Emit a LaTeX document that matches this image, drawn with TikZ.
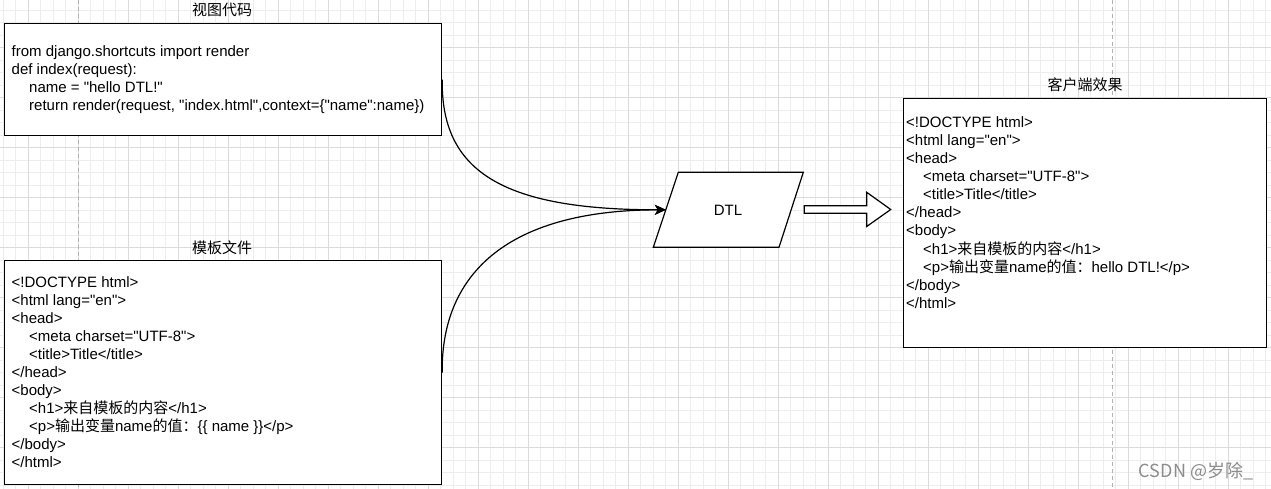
\documentclass[tikz,border=0pt]{standalone}
\usepackage{fontspec}
\setmainfont{Liberation Sans}[Ligatures=TeXOff]
\newfontfamily\cjk{Noto Sans CJK SC}
\usetikzlibrary{arrows.meta}
\newcommand\zh[1]{{\cjk #1}}
\begin{document}
\begin{tikzpicture}[x=1pt,y=-1pt,
  minorgrid/.style={draw=black!7, line width=0.8pt},
  majorgrid/.style={draw=black!14, line width=0.9pt},
  pagebreak/.style={draw=black!30, line width=0.9pt, dash pattern=on 4pt off 3pt},
  box/.style={draw=black, fill=white, line width=1.2pt, inner sep=0pt, anchor=north west},
  code/.style={anchor=base west, inner sep=0pt, font=\fontsize{15}{18}\selectfont},
  boxtitle/.style={inner sep=0pt, font=\cjk\fontsize{15}{18}\selectfont},
  shapeline/.style={draw=black, fill=white, line width=1.2pt, line join=miter},
  flow/.style={draw=black, line width=1.2pt, -{Stealth[length=11pt,width=10pt,inset=3pt]}},
  watermark/.style={text=black!45, inner sep=0pt, font=\cjk\fontsize{18}{20}\selectfont}]
\useasboundingbox (0,0) rectangle (1271,489);
\fill[white] (0,0) rectangle (1271,489);
% grid
\foreach \x in {3,15.5,...,1271} \draw[minorgrid] (\x,0) -- (\x,489);
\foreach \y in {10,22.5,...,489} \draw[minorgrid] (0,\y) -- (1271,\y);
\foreach \x in {28,78,...,1271} \draw[majorgrid] (\x,0) -- (\x,489);
\foreach \y in {47.5,97.5,...,489} \draw[majorgrid] (0,\y) -- (1271,\y);
\draw[pagebreak] (78,0) -- (78,489);
\draw[pagebreak] (1112,0) -- (1112,489);

% view code box
\node[boxtitle] (tv) at (222,10) {视图代码};
\node[box, minimum width=437pt, minimum height=112pt] (view) at (4,23) {};
\node[code] (v1) at (11.5,57) {from django.shortcuts import render};
\node[code] (v2) at (11.5,75) {def index(request):};
\node[code] (v3) at (29,93) {name = "hello DTL!"};
\node[code] (v4) at (29,111) {return render(request, "index.html",context=\{"name":name\})};

% template box
\node[boxtitle] (tt) at (222,247.7) {模板文件};
\node[box, minimum width=437pt, minimum height=224pt] (tmpl) at (4,260) {};
\node[code] (t1) at (11.5,287.5) {<!DOCTYPE html>};
\node[code] (t2) at (11.5,305.5) {<html lang="en">};
\node[code] (t3) at (11.5,323.5) {<head>};
\node[code] (t4) at (29,341.5) {<meta charset="UTF-8">};
\node[code] (t5) at (29,359.5) {<title>Title</title>};
\node[code] (t6) at (11.5,377.5) {</head>};
\node[code] (t7) at (11.5,395.5) {<body>};
\node[code] (t8) at (29,413.5) {<h1>\zh{来自模板的内容}</h1>};
\node[code] (t9) at (29,431.5) {<p>\zh{输出变量}name\zh{的值：}\{\{ name \}\}</p>};
\node[code] (t10) at (11.5,449.5) {</body>};
\node[code] (t11) at (11.5,467.5) {</html>};

% client box
\node[boxtitle] (tc) at (1085,85) {客户端效果};
\node[box, minimum width=363pt, minimum height=249pt] (client) at (903,97.7) {};
\node[code] (c1) at (906,128) {<!DOCTYPE html>};
\node[code] (c2) at (906,146) {<html lang="en">};
\node[code] (c3) at (906,164) {<head>};
\node[code] (c4) at (923,182) {<meta charset="UTF-8">};
\node[code] (c5) at (923,200) {<title>Title</title>};
\node[code] (c6) at (906,218) {</head>};
\node[code] (c7) at (906,236) {<body>};
\node[code] (c8) at (923,254) {<h1>\zh{来自模板的内容}</h1>};
\node[code] (c9) at (923,272) {<p>\zh{输出变量}name\zh{的值：}hello DTL!</p>};
\node[code] (c10) at (906,290) {</body>};
\node[code] (c11) at (906,308) {</html>};

% DTL parallelogram
\draw[shapeline] (653.3,247.3) -- (678.3,172.3) -- (803.3,172.3) -- (779,247.3) -- cycle;
\node[inner sep=0pt, font=\fontsize{15}{18}\selectfont] (dtl) at (728,210) {DTL};
\coordinate (dtlin) at (665.8,209.8);

% connectors
\draw[flow] (view.east) .. controls (441,170) and (500,210) .. (dtlin);
\draw[flow] (tmpl.east) .. controls (441,280) and (500,210) .. (dtlin);

% block arrow
\draw[shapeline] (804.3,205.7) -- (866.7,205.7) -- (866.7,192.3) -- (890.7,209.5)
  -- (866.7,226.5) -- (866.7,213.3) -- (804.3,213.3) -- cycle;

% watermark
\node[watermark] (wm) at (1196,471) {CSDN @岁除\_};
\end{tikzpicture}
\end{document}
